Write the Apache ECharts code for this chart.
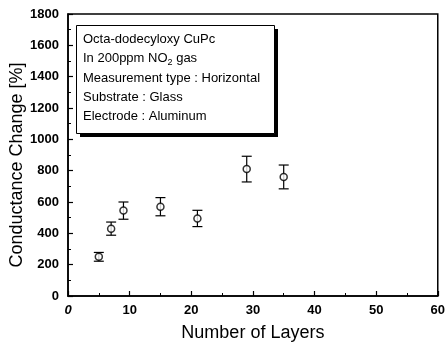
<!DOCTYPE html>
<html><head><meta charset="utf-8">
<script src="https://cdn.jsdelivr.net/npm/echarts@6/dist/echarts.min.js"></script>
<style>html,body{margin:0;padding:0;background:#fff}#c{width:448px;height:347px}</style>
</head><body><div id="c"></div>
<script>
const layers = [5, 7, 9, 15, 21, 29, 35];
const conductanceChange = [250, 430, 545, 570, 495, 810, 760];
const errorPlusMinus = [28, 42, 55, 58, 52, 82, 76];
const xTicks = [0, 10, 20, 30, 40, 50, 60];
const yTicks = [0, 200, 400, 600, 800, 1000, 1200, 1400, 1600, 1800];
const infoLines = ['Octa-dodecyloxy CuPc', 'In 200ppm NO{s|2} gas', 'Measurement type : Horizontal', 'Substrate : Glass', 'Electrode : Aluminum'];

const FONT = '"Liberation Sans", Arial, sans-serif';
const chart = echarts.init(document.getElementById('c'));
const pts = layers.map((x, i) => [x, conductanceChange[i]]);
const errs = layers.map((x, i) => [x, conductanceChange[i] - errorPlusMinus[i], conductanceChange[i] + errorPlusMinus[i]]);

const axisCommon = {
  axisLine: {show: true, lineStyle: {color: '#000', width: 1.5}},
  axisTick: {show: true, inside: true, length: 5, lineStyle: {color: '#000', width: 1.2}},
  minorTick: {show: true, splitNumber: 2, length: 3, lineStyle: {color: '#000', width: 1}},
  splitLine: {show: false}
};

const graphics = [];
graphics.push({type: 'rect', left: 80, top: 29, shape: {width: 198, height: 108}, style: {fill: '#000'}, z: 10});
graphics.push({type: 'rect', left: 76, top: 25, shape: {width: 198, height: 108}, style: {fill: '#fff', stroke: '#000', lineWidth: 1}, z: 11});
const lineY = [41, 60, 80, 99, 118];
infoLines.forEach((t, i) => {
  graphics.push({type: 'text', left: 83, top: lineY[i] - 8, z: 12,
    style: {text: t, font: '13px ' + FONT, fill: '#000',
      rich: {s: {fontSize: 9, fontFamily: FONT, verticalAlign: 'bottom', padding: [9, 0, 0, 0]}}}});
});
// y-axis title
graphics.push({type: 'text', x: 17, y: 165, rotation: Math.PI / 2, z: 12,
  style: {text: 'Conductance Change [%]', font: '18px ' + FONT, fill: '#000', align: 'center', verticalAlign: 'middle'}});

chart.setOption({
  animation: false,
  backgroundColor: '#fff',
  grid: {left: 68, right: 9, top: 14, bottom: 45, show: true, borderColor: '#000', borderWidth: 1.5},
  xAxis: Object.assign({}, axisCommon, {
    type: 'value', min: 0, max: 60, interval: 10,
    name: 'Number of Layers', nameLocation: 'middle', nameGap: 28,
    nameTextStyle: {fontFamily: FONT, fontSize: 18, color: '#000'},
    axisLabel: {fontFamily: FONT, fontSize: 13, fontWeight: 'bold', color: '#000', margin: 8,
      formatter: v => xTicks.includes(v) ? (v === 0 ? '{i|0}' : String(v)) : '',
      rich: {i: {fontStyle: 'italic', fontFamily: FONT, fontSize: 13, fontWeight: 'bold'}}}
  }),
  yAxis: Object.assign({}, axisCommon, {
    type: 'value', min: 0, max: 1800, interval: 200,
    axisLabel: {fontFamily: FONT, fontSize: 13, fontWeight: 'bold', color: '#000', margin: 9,
      formatter: v => yTicks.includes(v) ? String(v) : ''}
  }),
  graphic: graphics,
  series: [
    {
      type: 'custom', data: errs, z: 3,
      renderItem: (params, api) => {
        const x = api.value(0);
        const lo = api.coord([x, api.value(1)]);
        const hi = api.coord([x, api.value(2)]);
        const cw = 5;
        const st = {stroke: '#000', lineWidth: 1.2};
        return {type: 'group', children: [
          {type: 'line', shape: {x1: lo[0], y1: lo[1], x2: hi[0], y2: hi[1]}, style: st},
          {type: 'line', shape: {x1: lo[0] - cw, y1: lo[1], x2: lo[0] + cw, y2: lo[1]}, style: st},
          {type: 'line', shape: {x1: hi[0] - cw, y1: hi[1], x2: hi[0] + cw, y2: hi[1]}, style: st}
        ]};
      }
    },
    {
      type: 'scatter', data: pts, symbol: 'circle', symbolSize: 7, z: 4,
      itemStyle: {color: '#fff', borderColor: '#000', borderWidth: 1.5}
    }
  ]
});
</script></body></html>
